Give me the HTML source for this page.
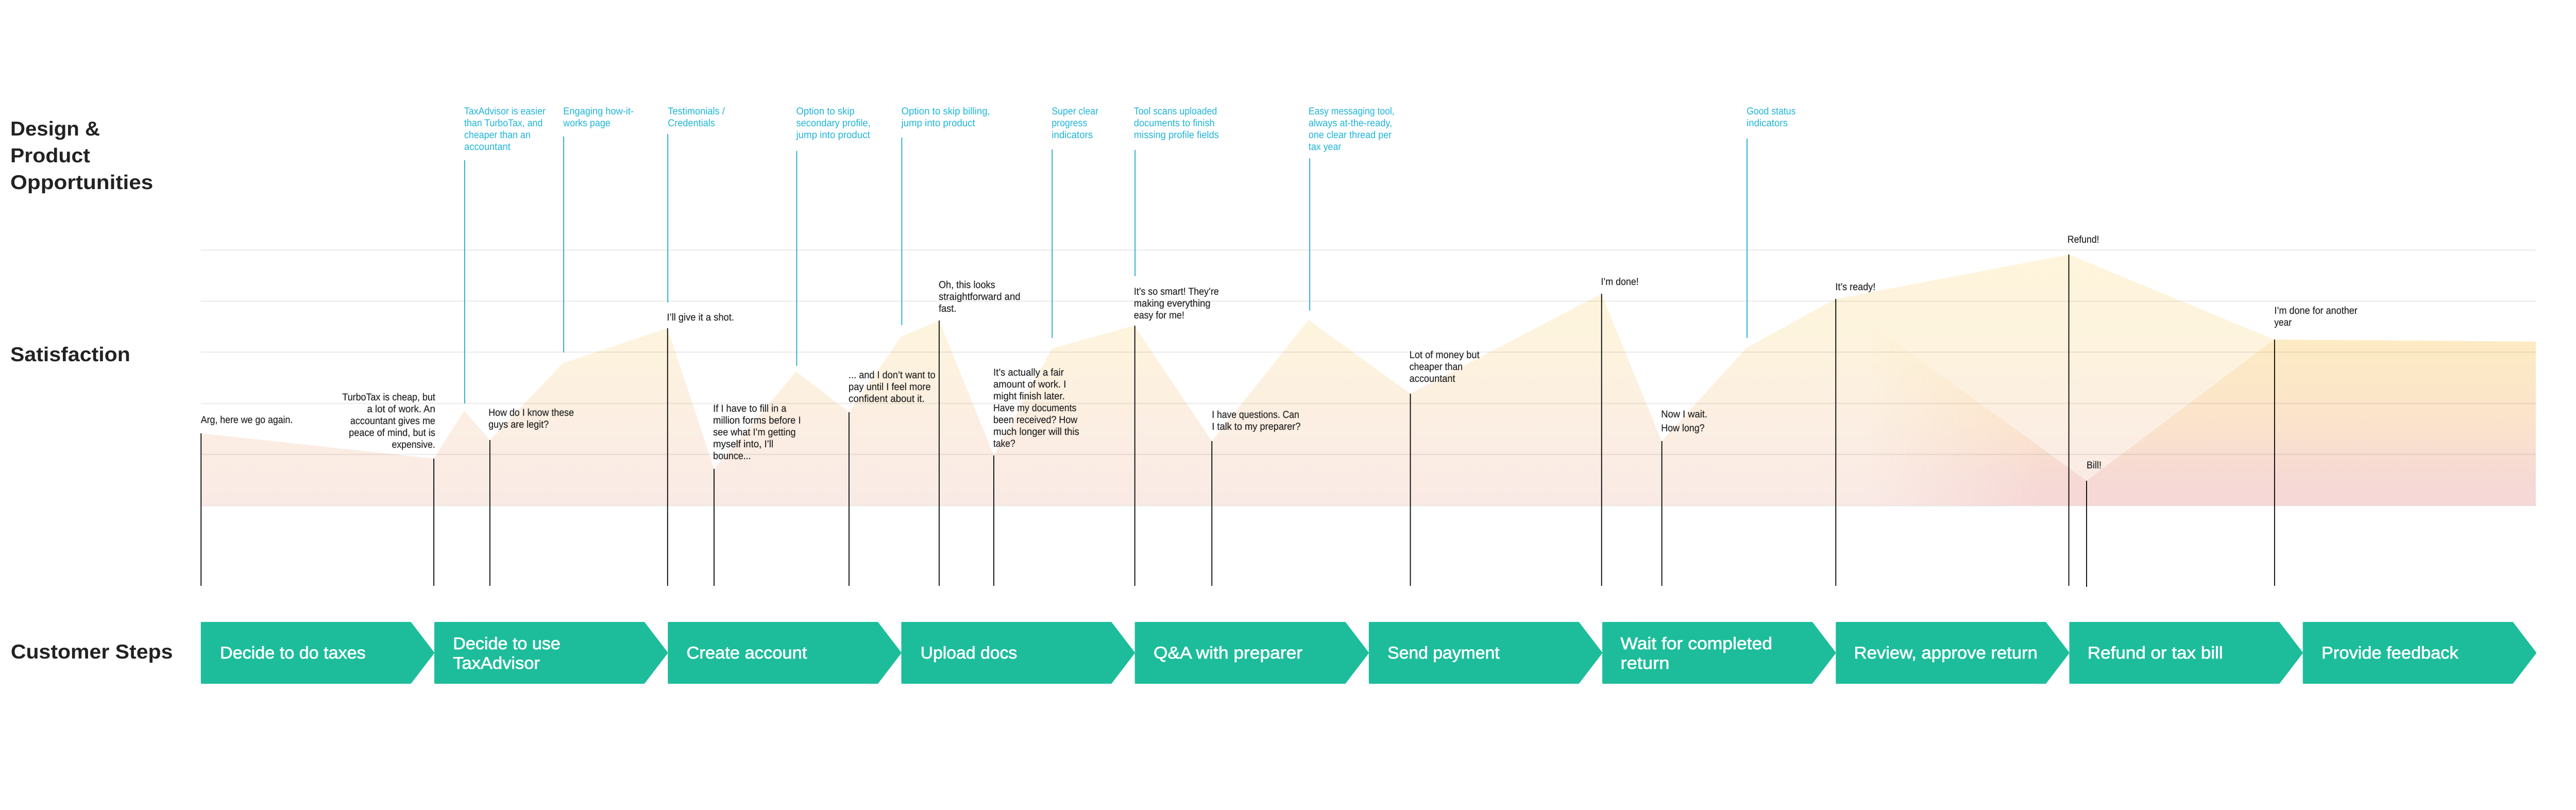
<!DOCTYPE html>
<html>
<head>
<meta charset="utf-8">
<style>
html,body{margin:0;padding:0;background:#fff;width:100%;height:100%;overflow:hidden}
svg{display:block;position:fixed;left:0;top:0;width:100vw;height:100vh}
text{font-family:"Liberation Sans",sans-serif;text-rendering:geometricPrecision}
.q{font-size:19.5px;fill:#262626;stroke:#262626;stroke-width:.25px}
.c{font-size:19.5px;fill:#1fb4d8}
.h{font-size:39px;font-weight:bold;fill:#222}
.s{font-size:33px;fill:#fff;stroke:#fff;stroke-width:.7px}
</style>
</head>
<body>
<svg xmlns="http://www.w3.org/2000/svg" viewBox="0 0 5516 1572" preserveAspectRatio="none" style="background:#fff">
<defs>
<linearGradient id="g1" gradientUnits="userSpaceOnUse" x1="0" y1="494" x2="0" y2="981">
<stop offset="0" stop-color="#fef5dc"/><stop offset=".4" stop-color="#fdf3de"/><stop offset=".75" stop-color="#fbede3"/><stop offset="1" stop-color="#faeae6"/>
</linearGradient>
<linearGradient id="g2" gradientUnits="userSpaceOnUse" x1="0" y1="659" x2="0" y2="981">
<stop offset="0" stop-color="#fdebc3"/><stop offset=".5" stop-color="#fbe3cb"/><stop offset=".85" stop-color="#f6d9d5"/><stop offset="1" stop-color="#f6d8d6"/>
</linearGradient>
<linearGradient id="fade" gradientUnits="userSpaceOnUse" x1="4000" y1="0" x2="4370" y2="0">
<stop offset="0" stop-color="#fff" stop-opacity="0"/><stop offset="1" stop-color="#fff" stop-opacity="1"/>
</linearGradient>
<mask id="m" maskUnits="userSpaceOnUse" x="3900" y="500" width="1600" height="500"><rect x="3900" y="500" width="1600" height="500" fill="url(#fade)"/></mask>
</defs>

<polygon fill="url(#g1)" points="430,841 929,890 994,797 1049,854 1205,705 1429,637 1529,910 1705,721 1818,800 1929,654 2011,622 2128,884 2253,676 2429,632 2595,856 2802,621 3020,764 3429,570 3558,856 3740,675 3931,580 4430,494 4870,659 5430,663 5430,981 430,981"/>
<polygon fill="url(#g2)" mask="url(#m)" points="3931,580 4468,933 4870,659 5430,663 5430,981 3931,981"/>

<g stroke="#000" stroke-opacity=".065" stroke-width="2.5" fill="none">
<line x1="430" x2="5430" y1="485.5" y2="485.5"/>
<line x1="430" x2="5430" y1="584.5" y2="584.5"/>
<line x1="430" x2="5430" y1="683.5" y2="683.5"/>
<line x1="430" x2="5430" y1="783" y2="783"/>
<line x1="430" x2="5430" y1="882" y2="882"/>
<line x1="430" x2="5430" y1="981.5" y2="981.5"/>
</g>

<g stroke="#20a9cc" stroke-width="2" fill="none">
<line x1="995" x2="995" y1="311" y2="783"/>
<line x1="1207" x2="1207" y1="265" y2="684"/>
<line x1="1430" x2="1430" y1="260" y2="587"/>
<line x1="1706" x2="1706" y1="293" y2="710"/>
<line x1="1931" x2="1931" y1="267" y2="631"/>
<line x1="2253" x2="2253" y1="290" y2="656"/>
<line x1="2430.5" x2="2430.5" y1="291" y2="536"/>
<line x1="2804.5" x2="2804.5" y1="307" y2="603"/>
<line x1="3741" x2="3741" y1="269" y2="656"/>
</g>

<g stroke="#000" stroke-width="2" fill="none">
<line x1="430.5" x2="430.5" y1="841" y2="1137"/>
<line x1="929" x2="929" y1="890" y2="1137"/>
<line x1="1049" x2="1049" y1="854" y2="1137"/>
<line x1="1429.5" x2="1429.5" y1="637" y2="1137"/>
<line x1="1529" x2="1529" y1="910" y2="1137"/>
<line x1="1818" x2="1818" y1="800" y2="1137"/>
<line x1="2011" x2="2011" y1="622" y2="1137"/>
<line x1="2128" x2="2128" y1="884" y2="1137"/>
<line x1="2430" x2="2430" y1="632" y2="1137"/>
<line x1="2595" x2="2595" y1="856" y2="1137"/>
<line x1="3020" x2="3020" y1="764" y2="1137"/>
<line x1="3429.5" x2="3429.5" y1="570" y2="1137"/>
<line x1="3558.5" x2="3558.5" y1="856" y2="1137"/>
<line x1="3931" x2="3931" y1="580" y2="1137"/>
<line x1="4430" x2="4430" y1="494" y2="1137"/>
<line x1="4468" x2="4468" y1="933" y2="1139"/>
<line x1="4870.5" x2="4870.5" y1="659" y2="1137"/>
</g>

<g fill="#1dbd9b" stroke="#1dbd9b" stroke-width="4" stroke-linejoin="round">
<polygon points="432,1209 879,1209 928,1267 879,1325 432,1325"/>
<polygon points="932,1209 1379,1209 1428,1267 1379,1325 932,1325"/>
<polygon points="1432,1209 1879,1209 1928,1267 1879,1325 1432,1325"/>
<polygon points="1932,1209 2379,1209 2428,1267 2379,1325 1932,1325"/>
<polygon points="2432,1209 2880,1209 2929,1267 2880,1325 2432,1325"/>
<polygon points="2933,1209 3380,1209 3429,1267 3380,1325 2933,1325"/>
<polygon points="3433,1209 3880,1209 3929,1267 3880,1325 3433,1325"/>
<polygon points="3933,1209 4380,1209 4429,1267 4380,1325 3933,1325"/>
<polygon points="4433,1209 4880,1209 4929,1267 4880,1325 4433,1325"/>
<polygon points="4933,1209 5380,1209 5429,1267 5380,1325 4933,1325"/>
</g>

<g>
<text class="h" x="22" y="263" textLength="192" lengthAdjust="spacingAndGlyphs">Design &amp;</text>
<text class="h" x="22" y="315" textLength="171" lengthAdjust="spacingAndGlyphs">Product</text>
<text class="h" x="22" y="367" textLength="306" lengthAdjust="spacingAndGlyphs">Opportunities</text>
<text class="h" x="22" y="701" textLength="257" lengthAdjust="spacingAndGlyphs">Satisfaction</text>
<text class="h" x="23" y="1278" textLength="347" lengthAdjust="spacingAndGlyphs">Customer Steps</text>
</g>

<g>
<text class="s" x="471" y="1278" textLength="312" lengthAdjust="spacingAndGlyphs">Decide to do taxes</text>
<text class="s" x="970" y="1260" textLength="230" lengthAdjust="spacingAndGlyphs">Decide to use</text>
<text class="s" x="970" y="1298" textLength="186" lengthAdjust="spacingAndGlyphs">TaxAdvisor</text>
<text class="s" x="1470" y="1278" textLength="258" lengthAdjust="spacingAndGlyphs">Create account</text>
<text class="s" x="1971" y="1278" textLength="207" lengthAdjust="spacingAndGlyphs">Upload docs</text>
<text class="s" x="2470" y="1278" textLength="319" lengthAdjust="spacingAndGlyphs">Q&amp;A with preparer</text>
<text class="s" x="2971" y="1278" textLength="240" lengthAdjust="spacingAndGlyphs">Send payment</text>
<text class="s" x="3470" y="1260" textLength="325" lengthAdjust="spacingAndGlyphs">Wait for completed</text>
<text class="s" x="3470" y="1298" textLength="105" lengthAdjust="spacingAndGlyphs">return</text>
<text class="s" x="3970" y="1278" textLength="393" lengthAdjust="spacingAndGlyphs">Review, approve return</text>
<text class="s" x="4470" y="1278" textLength="290" lengthAdjust="spacingAndGlyphs">Refund or tax bill</text>
<text class="s" x="4971" y="1278" textLength="293" lengthAdjust="spacingAndGlyphs">Provide feedback</text>
</g>

<g>
<text class="c" x="994" y="222" textLength="174" lengthAdjust="spacingAndGlyphs">TaxAdvisor is easier</text>
<text class="c" x="994" y="245" textLength="168" lengthAdjust="spacingAndGlyphs">than TurboTax, and</text>
<text class="c" x="994" y="268" textLength="142" lengthAdjust="spacingAndGlyphs">cheaper than an</text>
<text class="c" x="994" y="291" textLength="99" lengthAdjust="spacingAndGlyphs">accountant</text>
<text class="c" x="1206" y="222" textLength="151" lengthAdjust="spacingAndGlyphs">Engaging how-it-</text>
<text class="c" x="1206" y="245" textLength="101" lengthAdjust="spacingAndGlyphs">works page</text>
<text class="c" x="1430" y="222" textLength="122" lengthAdjust="spacingAndGlyphs">Testimonials /</text>
<text class="c" x="1430" y="245" textLength="101" lengthAdjust="spacingAndGlyphs">Credentials</text>
<text class="c" x="1705" y="222" textLength="125" lengthAdjust="spacingAndGlyphs">Option to skip</text>
<text class="c" x="1705" y="245" textLength="159" lengthAdjust="spacingAndGlyphs">secondary profile,</text>
<text class="c" x="1705" y="268" textLength="158" lengthAdjust="spacingAndGlyphs">jump into product</text>
<text class="c" x="1930" y="222" textLength="190" lengthAdjust="spacingAndGlyphs">Option to skip billing,</text>
<text class="c" x="1930" y="245" textLength="158" lengthAdjust="spacingAndGlyphs">jump into product</text>
<text class="c" x="2252" y="222" textLength="100" lengthAdjust="spacingAndGlyphs">Super clear</text>
<text class="c" x="2252" y="245" textLength="76" lengthAdjust="spacingAndGlyphs">progress</text>
<text class="c" x="2252" y="268" textLength="88" lengthAdjust="spacingAndGlyphs">indicators</text>
<text class="c" x="2428" y="222" textLength="178" lengthAdjust="spacingAndGlyphs">Tool scans uploaded</text>
<text class="c" x="2428" y="245" textLength="173" lengthAdjust="spacingAndGlyphs">documents to finish</text>
<text class="c" x="2428" y="268" textLength="182" lengthAdjust="spacingAndGlyphs">missing profile fields</text>
<text class="c" x="2802" y="222" textLength="184" lengthAdjust="spacingAndGlyphs">Easy messaging tool,</text>
<text class="c" x="2802" y="245" textLength="179" lengthAdjust="spacingAndGlyphs">always at-the-ready,</text>
<text class="c" x="2802" y="268" textLength="178" lengthAdjust="spacingAndGlyphs">one clear thread per</text>
<text class="c" x="2802" y="291" textLength="70" lengthAdjust="spacingAndGlyphs">tax year</text>
<text class="c" x="3740" y="222" textLength="105" lengthAdjust="spacingAndGlyphs">Good status</text>
<text class="c" x="3740" y="245" textLength="88" lengthAdjust="spacingAndGlyphs">indicators</text>
</g>

<g>
<text class="q" x="430" y="821" textLength="197" lengthAdjust="spacingAndGlyphs">Arg, here we go again.</text>
<text class="q" x="733" y="777" textLength="199" lengthAdjust="spacingAndGlyphs">TurboTax is cheap, but</text>
<text class="q" x="786" y="800" textLength="146" lengthAdjust="spacingAndGlyphs">a lot of work. An</text>
<text class="q" x="750" y="823" textLength="182" lengthAdjust="spacingAndGlyphs">accountant gives me</text>
<text class="q" x="747" y="846" textLength="185" lengthAdjust="spacingAndGlyphs">peace of mind, but is</text>
<text class="q" x="839" y="869" textLength="93" lengthAdjust="spacingAndGlyphs">expensive.</text>
<text class="q" x="1046" y="807" textLength="183" lengthAdjust="spacingAndGlyphs">How do I know these</text>
<text class="q" x="1046" y="830" textLength="129" lengthAdjust="spacingAndGlyphs">guys are legit?</text>
<text class="q" x="1428" y="622" textLength="144" lengthAdjust="spacingAndGlyphs">I’ll give it a shot.</text>
<text class="q" x="1527" y="799" textLength="157" lengthAdjust="spacingAndGlyphs">If I have to fill in a</text>
<text class="q" x="1527" y="822" textLength="188" lengthAdjust="spacingAndGlyphs">million forms before I</text>
<text class="q" x="1527" y="845" textLength="177" lengthAdjust="spacingAndGlyphs">see what I’m getting</text>
<text class="q" x="1527" y="868" textLength="129" lengthAdjust="spacingAndGlyphs">myself into, I’ll</text>
<text class="q" x="1527" y="891" textLength="81" lengthAdjust="spacingAndGlyphs">bounce...</text>
<text class="q" x="1817" y="734" textLength="186" lengthAdjust="spacingAndGlyphs">... and I don’t want to</text>
<text class="q" x="1817" y="757" textLength="176" lengthAdjust="spacingAndGlyphs">pay until I feel more</text>
<text class="q" x="1817" y="780" textLength="163" lengthAdjust="spacingAndGlyphs">confident about it.</text>
<text class="q" x="2010" y="559" textLength="121" lengthAdjust="spacingAndGlyphs">Oh, this looks</text>
<text class="q" x="2010" y="582" textLength="175" lengthAdjust="spacingAndGlyphs">straightforward and</text>
<text class="q" x="2010" y="605" textLength="38" lengthAdjust="spacingAndGlyphs">fast.</text>
<text class="q" x="2127" y="729" textLength="151" lengthAdjust="spacingAndGlyphs">It’s actually a fair</text>
<text class="q" x="2127" y="752" textLength="156" lengthAdjust="spacingAndGlyphs">amount of work. I</text>
<text class="q" x="2127" y="775" textLength="153" lengthAdjust="spacingAndGlyphs">might finish later.</text>
<text class="q" x="2127" y="798" textLength="178" lengthAdjust="spacingAndGlyphs">Have my documents</text>
<text class="q" x="2127" y="821" textLength="180" lengthAdjust="spacingAndGlyphs">been received? How</text>
<text class="q" x="2127" y="844" textLength="184" lengthAdjust="spacingAndGlyphs">much longer will this</text>
<text class="q" x="2127" y="867" textLength="47" lengthAdjust="spacingAndGlyphs">take?</text>
<text class="q" x="2428" y="572" textLength="182" lengthAdjust="spacingAndGlyphs">It’s so smart! They’re</text>
<text class="q" x="2428" y="595" textLength="164" lengthAdjust="spacingAndGlyphs">making everything</text>
<text class="q" x="2428" y="618" textLength="108" lengthAdjust="spacingAndGlyphs">easy for me!</text>
<text class="q" x="2595" y="811" textLength="187" lengthAdjust="spacingAndGlyphs">I have questions. Can</text>
<text class="q" x="2595" y="834" textLength="190" lengthAdjust="spacingAndGlyphs">I talk to my preparer?</text>
<text class="q" x="3018" y="695" textLength="150" lengthAdjust="spacingAndGlyphs">Lot of money but</text>
<text class="q" x="3018" y="718" textLength="114" lengthAdjust="spacingAndGlyphs">cheaper than</text>
<text class="q" x="3018" y="741" textLength="98" lengthAdjust="spacingAndGlyphs">accountant</text>
<text class="q" x="3428" y="553" textLength="81" lengthAdjust="spacingAndGlyphs">I’m done!</text>
<text class="q" x="3557" y="810" textLength="99" lengthAdjust="spacingAndGlyphs">Now I wait.</text>
<text class="q" x="3557" y="837" textLength="93" lengthAdjust="spacingAndGlyphs">How long?</text>
<text class="q" x="3930" y="563" textLength="86" lengthAdjust="spacingAndGlyphs">It’s ready!</text>
<text class="q" x="4427" y="471" textLength="68" lengthAdjust="spacingAndGlyphs">Refund!</text>
<text class="q" x="4870" y="609" textLength="178" lengthAdjust="spacingAndGlyphs">I’m done for another</text>
<text class="q" x="4870" y="632" textLength="37" lengthAdjust="spacingAndGlyphs">year</text>
<text class="q" x="4468" y="909" textLength="32" lengthAdjust="spacingAndGlyphs">Bill!</text>
</g>
</svg>
</body>
</html>
